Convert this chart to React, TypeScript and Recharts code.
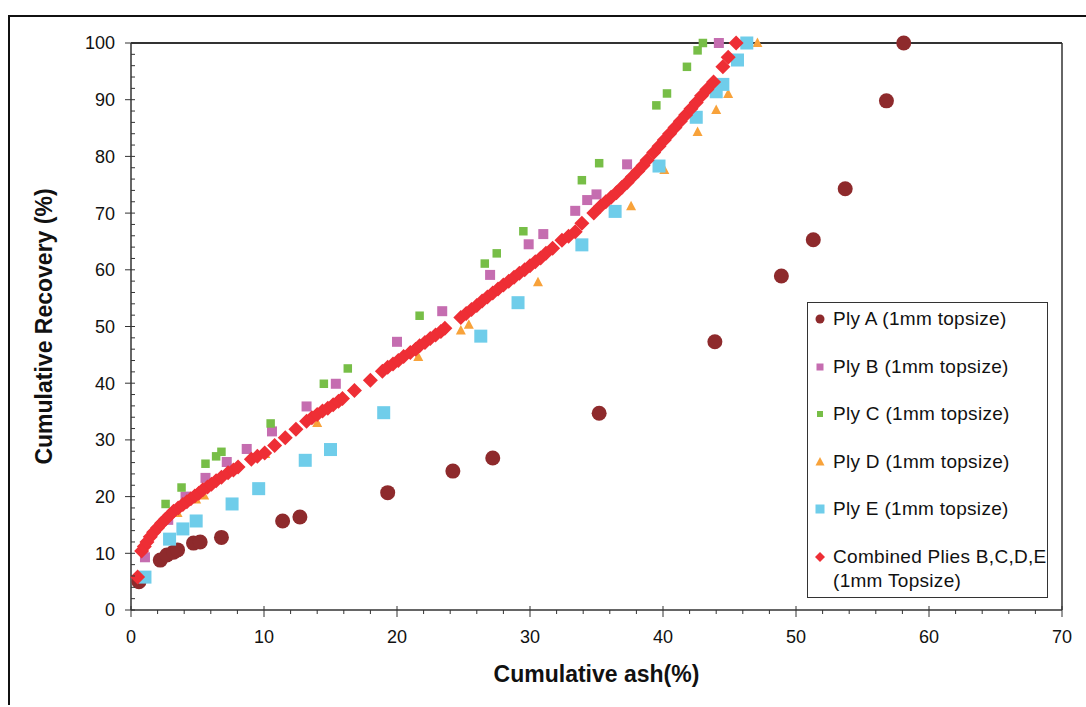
import React from "react";
import {
  ScatterChart,
  Scatter,
  XAxis,
  YAxis,
  Legend,
  Label,
  ReferenceLine,
} from "recharts";

// cumulative ash (%), cumulative recovery (%)
const plyA: [number, number][] = [
  [0.6, 5.0], [2.2, 8.8], [2.7, 9.7], [3.2, 10.2], [3.5, 10.6], [4.7, 11.8],
  [5.2, 12.0], [6.8, 12.8], [11.4, 15.7], [12.7, 16.4], [19.3, 20.7],
  [24.2, 24.5], [27.2, 26.8], [35.2, 34.7], [43.9, 47.3], [48.9, 58.9],
  [51.3, 65.3], [53.7, 74.3], [56.8, 89.8], [58.1, 100],
];

const plyB: [number, number][] = [
  [1.05, 9.3], [2.8, 15.9], [4.1, 20.0], [5.6, 23.3], [7.2, 26.1], [8.7, 28.4],
  [10.6, 31.5], [13.2, 35.9], [15.4, 39.9], [20.0, 47.3], [23.4, 52.7],
  [27.0, 59.1], [29.9, 64.5], [31.0, 66.3], [33.4, 70.4], [34.3, 72.3],
  [35.0, 73.3], [37.3, 78.6], [44.2, 100],
];

const plyC: [number, number][] = [
  [2.6, 18.7], [3.8, 21.6], [5.6, 25.8], [6.4, 27.1], [6.8, 27.9], [10.5, 32.9],
  [14.5, 39.9], [16.3, 42.6], [21.7, 51.9], [26.6, 61.1], [27.5, 62.9],
  [29.5, 66.8], [33.9, 75.8], [35.2, 78.8], [39.5, 89.0], [40.3, 91.1],
  [41.8, 95.8], [42.6, 98.7], [43.0, 100],
];

const plyD: [number, number][] = [
  [0.75, 11.0], [3.5, 17.1], [4.9, 19.5], [5.5, 20.2], [10.1, 27.5], [14.0, 33.0],
  [21.6, 44.6], [24.8, 49.3], [25.4, 50.3], [30.6, 57.8], [37.6, 71.2],
  [40.1, 77.6], [42.6, 84.3], [44.0, 88.2], [44.9, 91.0], [47.1, 100],
];

const plyE: [number, number][] = [
  [1.05, 5.8], [2.9, 12.5], [3.9, 14.3], [4.9, 15.7], [7.6, 18.7], [9.6, 21.4],
  [13.1, 26.4], [15.0, 28.3], [19.0, 34.8], [26.3, 48.3], [29.1, 54.2],
  [33.9, 64.4], [36.4, 70.3], [39.7, 78.3], [42.5, 86.9], [44.0, 91.4],
  [44.5, 92.7], [45.6, 97.0], [46.3, 100],
];

const combined: [number, number][] = [
  [0.5, 5.8],
  [0.8, 10.4], [1.0, 11.2], [1.2, 12.0], [1.45, 12.9], [1.7, 13.7], [2.0, 14.5],
  [2.3, 15.3], [2.6, 16.0], [2.9, 16.7], [3.2, 17.4], [3.55, 18.0], [3.9, 18.6],
  [4.2, 19.1], [4.5, 19.6], [4.8, 20.1], [5.1, 20.6], [5.4, 21.2], [5.75, 21.7],
  [6.05, 22.2], [6.4, 22.8], [6.8, 23.4],
  [7.3, 24.2], [7.7, 24.7], [8.05, 25.2],
  [9.05, 26.6], [9.5, 27.1], [10.05, 27.7],
  [10.8, 29.0], [11.6, 30.4], [12.4, 31.9],
  [13.2, 33.3], [13.6, 33.9], [14.0, 34.5], [14.4, 35.1], [14.8, 35.6],
  [15.2, 36.2], [15.6, 36.8], [15.9, 37.3],
  [16.8, 38.7], [18.0, 40.5],
  [18.9, 42.1], [19.3, 42.8], [19.7, 43.4], [20.1, 44.0], [20.5, 44.7],
  [21.0, 45.4], [21.4, 46.0],
  [21.7, 46.6], [22.1, 47.2], [22.5, 47.9], [22.9, 48.5], [23.3, 49.1], [23.6, 49.7],
  [24.8, 51.6], [25.2, 52.3], [25.6, 53.0], [26.0, 53.7], [26.4, 54.5], [26.8, 55.2],
  [27.2, 55.9], [27.6, 56.6], [28.0, 57.3], [28.4, 58.0], [28.8, 58.7], [29.2, 59.4],
  [29.6, 60.0], [30.0, 60.7], [30.4, 61.4], [30.8, 62.1], [31.2, 62.9], [31.7, 63.8],
  [32.4, 65.2], [32.9, 65.9], [33.4, 66.7],
  [33.9, 68.2], [34.8, 70.0],
  [35.3, 71.2], [35.7, 72.0], [36.1, 72.8], [36.5, 73.6], [36.9, 74.5], [37.3, 75.4],
  [37.7, 76.4], [38.1, 77.4], [38.5, 78.4], [38.8, 79.3],
  [39.3, 80.7], [39.7, 81.8], [40.1, 82.9], [40.5, 84.0], [40.9, 85.1], [41.3, 86.2],
  [41.7, 87.3], [42.1, 88.4], [42.5, 89.5], [42.9, 90.7], [43.3, 91.8], [43.8, 93.1],
  [44.5, 95.8], [44.9, 97.5], [45.5, 100],
];

const xTicks = Array.from({ length: 36 }, (_, i) => i * 2);
const yTicks = Array.from({ length: 51 }, (_, i) => i * 2);

const FONT = '"Liberation Sans", Arial, sans-serif';
const AXIS = "#333";

const toPts = (arr: [number, number][]) => arr.map(([x, y]) => ({ x, y }));

const circle = (color: string, r: number) => (p: any) =>
  <circle cx={p.cx} cy={p.cy} r={r} fill={color} />;
const square = (color: string, s: number) => (p: any) =>
  <rect x={p.cx - s / 2} y={p.cy - s / 2} width={s} height={s} fill={color} />;
const triangle = (color: string, s: number) => (p: any) =>
  <polygon
    points={`${p.cx},${p.cy - s * 0.55} ${p.cx + s / 2},${p.cy + s * 0.4} ${p.cx - s / 2},${p.cy + s * 0.4}`}
    fill={color}
  />;
const diamond = (color: string, h: number) => (p: any) =>
  <polygon
    points={`${p.cx},${p.cy - h} ${p.cx + h},${p.cy} ${p.cx},${p.cy + h} ${p.cx - h},${p.cy}`}
    fill={color}
  />;

const series = [
  { name: "Ply A (1mm topsize)", data: plyA, color: "#8E2A2C", shape: circle("#8E2A2C", 7.5), mark: circle("#8E2A2C", 4.5) },
  { name: "Ply B (1mm topsize)", data: plyB, color: "#C56DB0", shape: square("#C56DB0", 10), mark: square("#C56DB0", 7) },
  { name: "Ply C (1mm topsize)", data: plyC, color: "#77BE47", shape: square("#77BE47", 8.5), mark: square("#77BE47", 6) },
  { name: "Ply D (1mm topsize)", data: plyD, color: "#F8A23A", shape: triangle("#F8A23A", 10), mark: triangle("#F8A23A", 9) },
  { name: "Ply E (1mm topsize)", data: plyE, color: "#6FCDEA", shape: square("#6FCDEA", 13), mark: square("#6FCDEA", 9) },
  { name: "Combined Plies B,C,D,E\n(1mm Topsize)", data: combined, color: "#EE2E35", shape: diamond("#EE2E35", 7.5), mark: diamond("#EE2E35", 5) },
];

const XTick = (props: any) => {
  const { x, y, payload } = props;
  const v = payload.value;
  const major = v % 10 === 0;
  return (
    <g>
      <line x1={x} x2={x} y1={major ? y - 4 : y} y2={major ? y + 7 : y + 4} stroke={AXIS} strokeWidth={1} />
      {major && (
        <text x={x} y={y + 33} textAnchor="middle" fontSize={18} fontFamily={FONT} fill="#111">
          {v}
        </text>
      )}
    </g>
  );
};

const YTick = (props: any) => {
  const { x, y, payload } = props;
  const v = payload.value;
  const major = v % 10 === 0;
  return (
    <g>
      <line x1={major ? x - 6 : x} x2={x + 4} y1={y} y2={y} stroke={AXIS} strokeWidth={1} />
      {major && (
        <text x={x - 16} y={y} dy="0.36em" textAnchor="end" fontSize={18} fontFamily={FONT} fill="#111">
          {v}
        </text>
      )}
    </g>
  );
};

const LegendBox = () => (
  <div
    style={{
      width: 241,
      height: 296,
      border: "1px solid #333",
      background: "#fff",
      fontFamily: FONT,
      fontSize: 19,
      letterSpacing: 0.3,
      color: "#111",
      paddingTop: 4,
      boxSizing: "border-box",
    }}
  >
    {series.map((s) => (
      <div key={s.name} style={{ display: "flex", alignItems: "flex-start", marginBottom: 23.5 }}>
        <svg width={25} height={24} style={{ flex: "none" }}>
          {s.mark({ cx: 12, cy: 12 })}
        </svg>
        <div style={{ lineHeight: "24px", whiteSpace: "pre" }}>{s.name}</div>
      </div>
    ))}
  </div>
);

const YTitle = (props: any) => {
  const { x, y, height } = props.viewBox;
  const cx = x - 27;
  const cy = y + height / 2;
  return (
    <text x={cx} y={cy} transform={`rotate(-90 ${cx} ${cy})`} textAnchor="middle" dy="0.36em"
      fontSize={23} fontWeight="bold" fontFamily={FONT} fill="#111">
      Cumulative Recovery (%)
    </text>
  );
};

const XTitle = (props: any) => {
  const { x, y, width } = props.viewBox;
  return (
    <text x={x + width / 2} y={y + 72} textAnchor="middle"
      fontSize={23} fontWeight="bold" fontFamily={FONT} fill="#111">
      Cumulative ash(%)
    </text>
  );
};

export default function App() {
  return (
    <div
      style={{
        position: "absolute",
        left: 8,
        top: 15,
        width: 1076,
        height: 688,
        borderTop: "2px solid #111",
        borderLeft: "2px solid #111",
        background: "#fff",
      }}
    >
      <ScatterChart
        width={1070}
        height={680}
        margin={{ top: 26, right: 18, left: 61, bottom: 27 }}
      >
        <XAxis
          type="number"
          dataKey="x"
          domain={[0, 70]}
          ticks={xTicks}
          interval={0}
          tickLine={false}
          tickSize={0}
          tickMargin={0}
          tick={<XTick />}
          axisLine={{ stroke: AXIS, strokeWidth: 1.5 }}
          height={60}
        >
          <Label content={<XTitle />} />
        </XAxis>
        <YAxis
          type="number"
          dataKey="y"
          domain={[0, 100]}
          ticks={yTicks}
          interval={0}
          tickLine={false}
          tickSize={0}
          tickMargin={0}
          tick={<YTick />}
          axisLine={{ stroke: AXIS, strokeWidth: 1.5 }}
          width={60}
        >
          <Label content={<YTitle />} />
        </YAxis>
        <ReferenceLine y={100} stroke={AXIS} strokeWidth={2} />
        <ReferenceLine x={70} stroke={AXIS} strokeWidth={1.5} />
        {series.map((s) => (
          <Scatter
            key={s.name}
            name={s.name}
            data={toPts(s.data)}
            fill={s.color}
            shape={s.shape}
            isAnimationActive={false}
          />
        ))}
        <Legend
          layout="vertical"
          align="center"
          verticalAlign="middle"
          content={<LegendBox />}
          wrapperStyle={{ left: 797, top: 285, width: 241, height: 296 }}
        />
      </ScatterChart>
    </div>
  );
}
